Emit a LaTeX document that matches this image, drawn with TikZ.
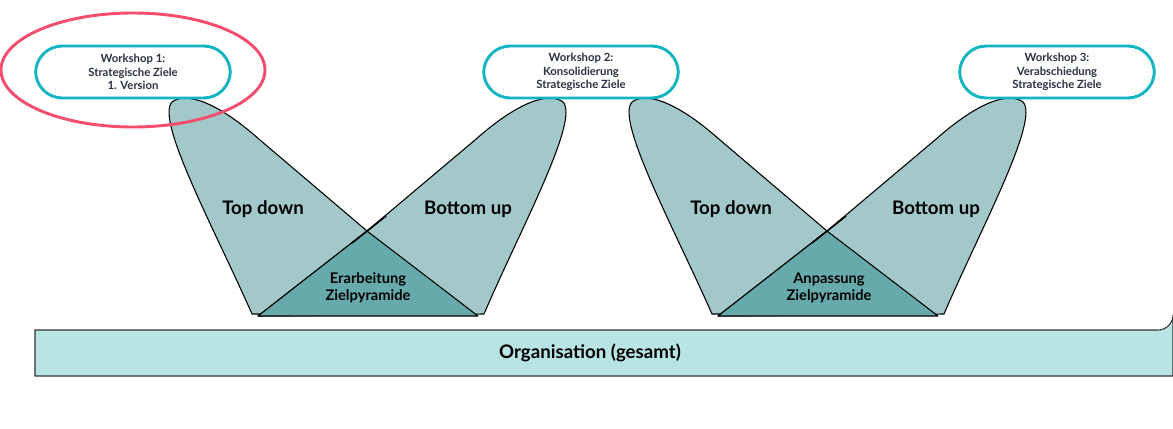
\documentclass[tikz,border=0pt]{standalone}
\usepackage{fontspec}
\setmainfont{Lato}
\begin{document}
\begin{tikzpicture}[x=0.75pt,y=-0.75pt,
  lobe/.style={fill=lobefill,draw=black,line width=0.8pt,line join=round},
  tri/.style={fill=trifill,draw=black,line width=0.8pt,line join=round},
  pill/.style={draw=pillc,line width=2.2pt,rounded corners=20pt,fill=white,minimum width=146pt,minimum height=39pt,align=center,font=\fontsize{8.5}{10}\selectfont\bfseries,text=textc,inner sep=1pt},
  lbl/.style={font=\fontsize{14}{16}\selectfont\bfseries},
  tlbl/.style={font=\fontsize{11}{13}\selectfont\bfseries,align=center}]
\definecolor{lobefill}{HTML}{A2C8C9}
\definecolor{trifill}{HTML}{67AAAB}
\definecolor{pillc}{HTML}{14B5C2}
\definecolor{textc}{HTML}{2A3142}
\definecolor{orgfill}{HTML}{B9E4E4}
\definecolor{redc}{HTML}{F44D6E}
\useasboundingbox (0,0) rectangle (1173,428);
\foreach \o/\t in {0/Erarbeitung,460/Anpassung}{
\begin{scope}[xshift=\o*0.75pt]
\draw[lobe] (252,314) .. controls (215,230) and (155,120) .. (172,102) .. controls (185,92) and (215,100) .. (260,140) -- (367,231) -- (476,314) -- cycle;
\draw[lobe] (484,314) .. controls (520,230) and (580,120) .. (563,102) .. controls (550,92) and (520,100) .. (475,140) -- (367,231) -- (258,316) -- cycle;
\draw[tri] (258,316) -- (367,231) -- (478,316) -- cycle;
\draw[line width=1.2pt] (352,243) -- (386,216);
\end{scope}}
\node[lbl] (td1) at (263,209) {Top down};
\node[lbl] (bu1) at (468,209) {Bottom up};
\node[tlbl] (p1) at (368,288) {Erarbeitung\\Zielpyramide};
\node[lbl] (td2) at (731,209) {Top down};
\node[lbl] (bu2) at (936,209) {Bottom up};
\node[tlbl] (p2) at (829,288) {Anpassung\\Zielpyramide};
\node[pill] (w1) at (133,72) {Workshop 1:\\Strategische Ziele\\1. Version};
\node[pill] (w2) at (581,72) {Workshop 2:\\Konsolidierung\\Strategische Ziele};
\node[pill] (w3) at (1057,72) {Workshop 3:\\Verabschiedung\\Strategische Ziele};
\draw[redc,line width=2.2pt] (133,70) ellipse [x radius=132,y radius=57];
\draw[fill=orgfill,draw=black!80,line width=0.8pt] (35,376) -- (35,330) -- (1158,330) arc[start angle=90,end angle=0,radius=15] -- (1173,376) -- cycle;
\node[font=\fontsize{14}{16}\selectfont\bfseries] (org) at (590,353) {Organisation (gesamt)};
\end{tikzpicture}
\end{document}
